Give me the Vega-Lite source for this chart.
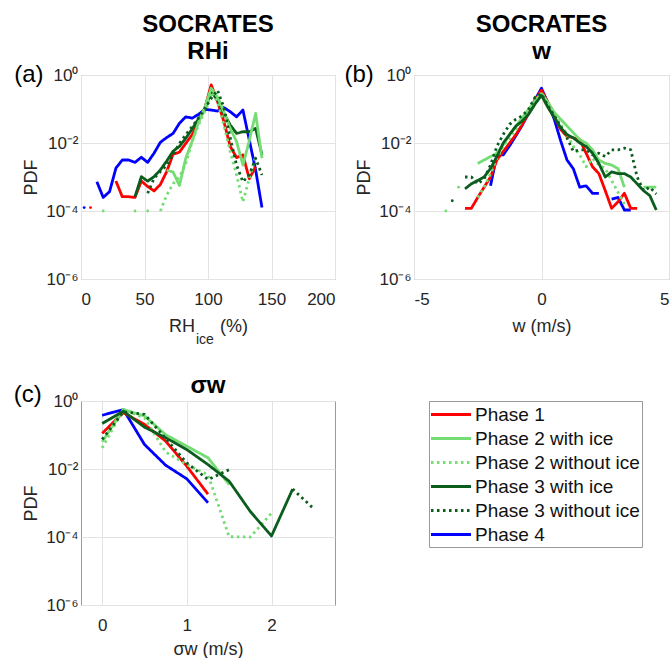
{
  "$schema": "https://vega.github.io/schema/vega-lite/v6.json",
  "background": "white",
  "padding": {"left": 13, "top": 12, "right": 0, "bottom": 0},
  "config": {
    "font": "Liberation Sans",
    "view": {"stroke": "#9a9a9a", "strokeWidth": 1},
    "title": {"font": "Liberation Sans", "fontSize": 24, "fontWeight": "bold", "color": "#000000", "anchor": "middle", "frame": "group", "lineHeight": 27, "offset": -1},
    "axis": {"labelFont": "Liberation Sans", "labelFontSize": 17, "labelColor": "#262626", "titleFont": "Liberation Sans", "titleFontSize": 18, "titleFontWeight": "normal", "titleColor": "#262626", "gridColor": "#e3e3e3", "domain": false, "ticks": false, "tickSize": 0},
    "axisX": {"labelPadding": 12, "titlePadding": 10},
    "axisY": {"labelPadding": 3, "titlePadding": 5},
    "legend": {"title": null, "orient": "none", "legendX": 348, "legendY": 326, "symbolType": "M0,0H4", "symbolSize": 400, "symbolOffset": -11.5, "symbolStrokeWidth": 3, "labelFont": "Liberation Sans", "labelFontSize": 19, "labelColor": "#111111", "labelLimit": 400, "labelOffset": 32.5, "rowPadding": 2, "padding": 2, "strokeColor": "#999999", "fillColor": "#ffffff", "cornerRadius": 0}
  },
  "datasets": {
    "rhi": [
      {"phase": "Phase 4", "rhi": 2.5, "pdf": 1.26e-4, "seg": 1},
      {"phase": "Phase 4", "rhi": 12.5, "pdf": 7.24e-4, "seg": 2},
      {"phase": "Phase 4", "rhi": 17.5, "pdf": 2.51e-4, "seg": 2},
      {"phase": "Phase 4", "rhi": 22.5, "pdf": 3.72e-4, "seg": 2},
      {"phase": "Phase 4", "rhi": 27.5, "pdf": 1.82e-3, "seg": 2},
      {"phase": "Phase 4", "rhi": 32.5, "pdf": 3.16e-3, "seg": 2},
      {"phase": "Phase 4", "rhi": 37.5, "pdf": 3.16e-3, "seg": 2},
      {"phase": "Phase 4", "rhi": 42.5, "pdf": 2.69e-3, "seg": 2},
      {"phase": "Phase 4", "rhi": 47.5, "pdf": 3.80e-3, "seg": 2},
      {"phase": "Phase 4", "rhi": 52.5, "pdf": 2.69e-3, "seg": 2},
      {"phase": "Phase 4", "rhi": 57.5, "pdf": 5.01e-3, "seg": 2},
      {"phase": "Phase 4", "rhi": 62.5, "pdf": 1.05e-2, "seg": 2},
      {"phase": "Phase 4", "rhi": 67.5, "pdf": 1.45e-2, "seg": 2},
      {"phase": "Phase 4", "rhi": 72.5, "pdf": 1.91e-2, "seg": 2},
      {"phase": "Phase 4", "rhi": 77.5, "pdf": 3.80e-2, "seg": 2},
      {"phase": "Phase 4", "rhi": 82.5, "pdf": 5.89e-2, "seg": 2},
      {"phase": "Phase 4", "rhi": 87.5, "pdf": 5.37e-2, "seg": 2},
      {"phase": "Phase 4", "rhi": 92.5, "pdf": 6.92e-2, "seg": 2},
      {"phase": "Phase 4", "rhi": 97.5, "pdf": 9.77e-2, "seg": 2},
      {"phase": "Phase 4", "rhi": 102.5, "pdf": 9.33e-2, "seg": 2},
      {"phase": "Phase 4", "rhi": 107.5, "pdf": 8.71e-2, "seg": 2},
      {"phase": "Phase 4", "rhi": 112.5, "pdf": 0.110, "seg": 2},
      {"phase": "Phase 4", "rhi": 117.5, "pdf": 8.32e-2, "seg": 2},
      {"phase": "Phase 4", "rhi": 122.5, "pdf": 5.89e-2, "seg": 2},
      {"phase": "Phase 4", "rhi": 127.5, "pdf": 9.33e-2, "seg": 2},
      {"phase": "Phase 4", "rhi": 132.5, "pdf": 1.23e-2, "seg": 2},
      {"phase": "Phase 4", "rhi": 137.5, "pdf": 1.62e-3, "seg": 2},
      {"phase": "Phase 4", "rhi": 142.5, "pdf": 1.26e-4, "seg": 2},
      {"phase": "Phase 1", "rhi": 7.5, "pdf": 1.26e-4, "seg": 1},
      {"phase": "Phase 1", "rhi": 27.5, "pdf": 7.59e-4, "seg": 2},
      {"phase": "Phase 1", "rhi": 32.5, "pdf": 2.63e-4, "seg": 2},
      {"phase": "Phase 1", "rhi": 37.5, "pdf": 2.63e-4, "seg": 2},
      {"phase": "Phase 1", "rhi": 42.5, "pdf": 2.51e-4, "seg": 2},
      {"phase": "Phase 1", "rhi": 47.5, "pdf": 7.59e-4, "seg": 2},
      {"phase": "Phase 1", "rhi": 52.5, "pdf": 5.25e-4, "seg": 2},
      {"phase": "Phase 1", "rhi": 57.5, "pdf": 3.89e-4, "seg": 2},
      {"phase": "Phase 1", "rhi": 62.5, "pdf": 6.03e-4, "seg": 2},
      {"phase": "Phase 1", "rhi": 67.5, "pdf": 1.45e-3, "seg": 2},
      {"phase": "Phase 1", "rhi": 72.5, "pdf": 4.68e-3, "seg": 2},
      {"phase": "Phase 1", "rhi": 77.5, "pdf": 5.37e-3, "seg": 2},
      {"phase": "Phase 1", "rhi": 82.5, "pdf": 9.77e-3, "seg": 2},
      {"phase": "Phase 1", "rhi": 87.5, "pdf": 1.74e-2, "seg": 2},
      {"phase": "Phase 1", "rhi": 92.5, "pdf": 4.27e-2, "seg": 2},
      {"phase": "Phase 1", "rhi": 97.5, "pdf": 0.105, "seg": 2},
      {"phase": "Phase 1", "rhi": 102.5, "pdf": 0.513, "seg": 2},
      {"phase": "Phase 1", "rhi": 107.5, "pdf": 0.166, "seg": 2},
      {"phase": "Phase 1", "rhi": 112.5, "pdf": 4.27e-2, "seg": 2},
      {"phase": "Phase 1", "rhi": 117.5, "pdf": 7.94e-3, "seg": 2},
      {"phase": "Phase 1", "rhi": 122.5, "pdf": 3.72e-3, "seg": 2},
      {"phase": "Phase 1", "rhi": 127.5, "pdf": 4.47e-3, "seg": 2},
      {"phase": "Phase 1", "rhi": 132.5, "pdf": 8.91e-4, "seg": 2},
      {"phase": "Phase 1", "rhi": 137.5, "pdf": 2.00e-3, "seg": 2},
      {"phase": "Phase 3 with ice", "rhi": 42.5, "pdf": 2.63e-4, "seg": 1},
      {"phase": "Phase 3 with ice", "rhi": 47.5, "pdf": 1.02e-3, "seg": 1},
      {"phase": "Phase 3 with ice", "rhi": 52.5, "pdf": 7.59e-4, "seg": 1},
      {"phase": "Phase 3 with ice", "rhi": 57.5, "pdf": 1.02e-3, "seg": 1},
      {"phase": "Phase 3 with ice", "rhi": 62.5, "pdf": 1.62e-3, "seg": 1},
      {"phase": "Phase 3 with ice", "rhi": 67.5, "pdf": 2.95e-3, "seg": 1},
      {"phase": "Phase 3 with ice", "rhi": 72.5, "pdf": 5.75e-3, "seg": 1},
      {"phase": "Phase 3 with ice", "rhi": 77.5, "pdf": 7.94e-3, "seg": 1},
      {"phase": "Phase 3 with ice", "rhi": 82.5, "pdf": 1.38e-2, "seg": 1},
      {"phase": "Phase 3 with ice", "rhi": 87.5, "pdf": 2.57e-2, "seg": 1},
      {"phase": "Phase 3 with ice", "rhi": 92.5, "pdf": 5.13e-2, "seg": 1},
      {"phase": "Phase 3 with ice", "rhi": 97.5, "pdf": 9.33e-2, "seg": 1},
      {"phase": "Phase 3 with ice", "rhi": 102.5, "pdf": 0.324, "seg": 1},
      {"phase": "Phase 3 with ice", "rhi": 107.5, "pdf": 0.182, "seg": 1},
      {"phase": "Phase 3 with ice", "rhi": 112.5, "pdf": 7.41e-2, "seg": 1},
      {"phase": "Phase 3 with ice", "rhi": 117.5, "pdf": 3.39e-2, "seg": 1},
      {"phase": "Phase 3 with ice", "rhi": 122.5, "pdf": 1.91e-2, "seg": 1},
      {"phase": "Phase 3 with ice", "rhi": 127.5, "pdf": 2.14e-2, "seg": 1},
      {"phase": "Phase 3 with ice", "rhi": 132.5, "pdf": 2.14e-2, "seg": 1},
      {"phase": "Phase 3 with ice", "rhi": 137.5, "pdf": 2.69e-2, "seg": 1},
      {"phase": "Phase 3 with ice", "rhi": 142.5, "pdf": 4.47e-3, "seg": 1},
      {"phase": "Phase 2 with ice", "rhi": 67.5, "pdf": 1.58e-3, "seg": 1},
      {"phase": "Phase 2 with ice", "rhi": 72.5, "pdf": 1.41e-3, "seg": 1},
      {"phase": "Phase 2 with ice", "rhi": 77.5, "pdf": 5.62e-4, "seg": 1},
      {"phase": "Phase 2 with ice", "rhi": 82.5, "pdf": 3.55e-3, "seg": 1},
      {"phase": "Phase 2 with ice", "rhi": 87.5, "pdf": 1.12e-2, "seg": 1},
      {"phase": "Phase 2 with ice", "rhi": 92.5, "pdf": 3.98e-2, "seg": 1},
      {"phase": "Phase 2 with ice", "rhi": 97.5, "pdf": 0.112, "seg": 1},
      {"phase": "Phase 2 with ice", "rhi": 102.5, "pdf": 0.407, "seg": 1},
      {"phase": "Phase 2 with ice", "rhi": 107.5, "pdf": 0.224, "seg": 1},
      {"phase": "Phase 2 with ice", "rhi": 112.5, "pdf": 8.32e-2, "seg": 1},
      {"phase": "Phase 2 with ice", "rhi": 117.5, "pdf": 2.69e-2, "seg": 1},
      {"phase": "Phase 2 with ice", "rhi": 122.5, "pdf": 1.10e-2, "seg": 1},
      {"phase": "Phase 2 with ice", "rhi": 127.5, "pdf": 2.24e-3, "seg": 1},
      {"phase": "Phase 2 with ice", "rhi": 132.5, "pdf": 1.17e-2, "seg": 1},
      {"phase": "Phase 2 with ice", "rhi": 137.5, "pdf": 7.41e-2, "seg": 1},
      {"phase": "Phase 2 with ice", "rhi": 142.5, "pdf": 3.55e-3, "seg": 1},
      {"phase": "Phase 2 without ice", "rhi": 17.5, "pdf": 1.0e-4, "seg": 1},
      {"phase": "Phase 2 without ice", "rhi": 42.5, "pdf": 1.0e-4, "seg": 2},
      {"phase": "Phase 2 without ice", "rhi": 52.5, "pdf": 1.0e-4, "seg": 3},
      {"phase": "Phase 2 without ice", "rhi": 62.5, "pdf": 1.0e-4, "seg": 4},
      {"phase": "Phase 2 without ice", "rhi": 67.5, "pdf": 2.95e-4, "seg": 4},
      {"phase": "Phase 2 without ice", "rhi": 72.5, "pdf": 6.31e-4, "seg": 4},
      {"phase": "Phase 2 without ice", "rhi": 77.5, "pdf": 1.00e-3, "seg": 4},
      {"phase": "Phase 2 without ice", "rhi": 82.5, "pdf": 2.51e-3, "seg": 4},
      {"phase": "Phase 2 without ice", "rhi": 87.5, "pdf": 1.10e-2, "seg": 4},
      {"phase": "Phase 2 without ice", "rhi": 92.5, "pdf": 3.39e-2, "seg": 4},
      {"phase": "Phase 2 without ice", "rhi": 97.5, "pdf": 8.71e-2, "seg": 4},
      {"phase": "Phase 2 without ice", "rhi": 102.5, "pdf": 0.316, "seg": 4},
      {"phase": "Phase 2 without ice", "rhi": 107.5, "pdf": 0.166, "seg": 4},
      {"phase": "Phase 2 without ice", "rhi": 112.5, "pdf": 3.39e-2, "seg": 4},
      {"phase": "Phase 2 without ice", "rhi": 117.5, "pdf": 5.62e-3, "seg": 4},
      {"phase": "Phase 2 without ice", "rhi": 122.5, "pdf": 1.15e-3, "seg": 4},
      {"phase": "Phase 2 without ice", "rhi": 127.5, "pdf": 1.86e-4, "seg": 4},
      {"phase": "Phase 2 without ice", "rhi": 132.5, "pdf": 9.12e-4, "seg": 4},
      {"phase": "Phase 2 without ice", "rhi": 137.5, "pdf": 3.98e-3, "seg": 4},
      {"phase": "Phase 3 without ice", "rhi": 52.5, "pdf": 3.31e-4, "seg": 1},
      {"phase": "Phase 3 without ice", "rhi": 57.5, "pdf": 9.12e-4, "seg": 1},
      {"phase": "Phase 3 without ice", "rhi": 62.5, "pdf": 1.45e-3, "seg": 1},
      {"phase": "Phase 3 without ice", "rhi": 67.5, "pdf": 2.19e-3, "seg": 1},
      {"phase": "Phase 3 without ice", "rhi": 72.5, "pdf": 4.47e-3, "seg": 1},
      {"phase": "Phase 3 without ice", "rhi": 77.5, "pdf": 9.77e-3, "seg": 1},
      {"phase": "Phase 3 without ice", "rhi": 82.5, "pdf": 1.74e-2, "seg": 1},
      {"phase": "Phase 3 without ice", "rhi": 87.5, "pdf": 3.02e-2, "seg": 1},
      {"phase": "Phase 3 without ice", "rhi": 92.5, "pdf": 5.37e-2, "seg": 1},
      {"phase": "Phase 3 without ice", "rhi": 97.5, "pdf": 0.105, "seg": 1},
      {"phase": "Phase 3 without ice", "rhi": 102.5, "pdf": 0.204, "seg": 1},
      {"phase": "Phase 3 without ice", "rhi": 107.5, "pdf": 0.355, "seg": 1},
      {"phase": "Phase 3 without ice", "rhi": 112.5, "pdf": 0.112, "seg": 1},
      {"phase": "Phase 3 without ice", "rhi": 117.5, "pdf": 1.41e-2, "seg": 1},
      {"phase": "Phase 3 without ice", "rhi": 122.5, "pdf": 2.24e-3, "seg": 1},
      {"phase": "Phase 3 without ice", "rhi": 127.5, "pdf": 7.24e-4, "seg": 1},
      {"phase": "Phase 3 without ice", "rhi": 132.5, "pdf": 1.15e-3, "seg": 1},
      {"phase": "Phase 3 without ice", "rhi": 137.5, "pdf": 3.55e-3, "seg": 1},
      {"phase": "Phase 3 without ice", "rhi": 142.5, "pdf": 1.15e-3, "seg": 1}
    ],
    "w": [
      {"phase": "Phase 4", "w": -2.0, "pdf": 5.50e-4, "seg": 1},
      {"phase": "Phase 4", "w": -1.75, "pdf": 4.47e-3, "seg": 1},
      {"phase": "Phase 4", "w": -1.5, "pdf": 4.47e-3, "seg": 1},
      {"phase": "Phase 4", "w": -1.25, "pdf": 8.32e-3, "seg": 1},
      {"phase": "Phase 4", "w": -1.0, "pdf": 1.66e-2, "seg": 1},
      {"phase": "Phase 4", "w": -0.75, "pdf": 3.39e-2, "seg": 1},
      {"phase": "Phase 4", "w": -0.5, "pdf": 7.94e-2, "seg": 1},
      {"phase": "Phase 4", "w": -0.25, "pdf": 0.191, "seg": 1},
      {"phase": "Phase 4", "w": 0.0, "pdf": 0.407, "seg": 1},
      {"phase": "Phase 4", "w": 0.25, "pdf": 0.151, "seg": 1},
      {"phase": "Phase 4", "w": 0.5, "pdf": 5.01e-2, "seg": 1},
      {"phase": "Phase 4", "w": 0.75, "pdf": 1.17e-2, "seg": 1},
      {"phase": "Phase 4", "w": 1.0, "pdf": 3.16e-3, "seg": 1},
      {"phase": "Phase 4", "w": 1.25, "pdf": 1.74e-3, "seg": 1},
      {"phase": "Phase 4", "w": 1.5, "pdf": 5.01e-4, "seg": 1},
      {"phase": "Phase 4", "w": 1.75, "pdf": 5.50e-4, "seg": 1},
      {"phase": "Phase 4", "w": 2.0, "pdf": 3.31e-4, "seg": 1},
      {"phase": "Phase 4", "w": 2.25, "pdf": 3.31e-4, "seg": 1},
      {"phase": "Phase 4", "w": 2.75, "pdf": 2.24e-4, "seg": 2},
      {"phase": "Phase 4", "w": 3.0, "pdf": 2.51e-4, "seg": 2},
      {"phase": "Phase 4", "w": 3.25, "pdf": 1.07e-4, "seg": 2},
      {"phase": "Phase 4", "w": 3.5, "pdf": 1.07e-4, "seg": 2},
      {"phase": "Phase 1", "w": -3.0, "pdf": 1.20e-4, "seg": 1},
      {"phase": "Phase 1", "w": -2.75, "pdf": 1.20e-4, "seg": 1},
      {"phase": "Phase 1", "w": -2.5, "pdf": 2.51e-4, "seg": 1},
      {"phase": "Phase 1", "w": -2.25, "pdf": 5.01e-4, "seg": 1},
      {"phase": "Phase 1", "w": -2.0, "pdf": 1.00e-3, "seg": 1},
      {"phase": "Phase 1", "w": -1.75, "pdf": 3.16e-3, "seg": 1},
      {"phase": "Phase 1", "w": -1.5, "pdf": 5.62e-3, "seg": 1},
      {"phase": "Phase 1", "w": -1.25, "pdf": 1.00e-2, "seg": 1},
      {"phase": "Phase 1", "w": -1.0, "pdf": 1.78e-2, "seg": 1},
      {"phase": "Phase 1", "w": -0.75, "pdf": 3.55e-2, "seg": 1},
      {"phase": "Phase 1", "w": -0.5, "pdf": 7.59e-2, "seg": 1},
      {"phase": "Phase 1", "w": -0.25, "pdf": 0.178, "seg": 1},
      {"phase": "Phase 1", "w": 0.0, "pdf": 0.355, "seg": 1},
      {"phase": "Phase 1", "w": 0.25, "pdf": 0.158, "seg": 1},
      {"phase": "Phase 1", "w": 0.5, "pdf": 6.31e-2, "seg": 1},
      {"phase": "Phase 1", "w": 0.75, "pdf": 2.51e-2, "seg": 1},
      {"phase": "Phase 1", "w": 1.0, "pdf": 1.58e-2, "seg": 1},
      {"phase": "Phase 1", "w": 1.25, "pdf": 1.41e-2, "seg": 1},
      {"phase": "Phase 1", "w": 1.5, "pdf": 1.26e-2, "seg": 1},
      {"phase": "Phase 1", "w": 1.75, "pdf": 5.01e-3, "seg": 1},
      {"phase": "Phase 1", "w": 2.0, "pdf": 2.00e-3, "seg": 1},
      {"phase": "Phase 1", "w": 2.25, "pdf": 1.26e-3, "seg": 1},
      {"phase": "Phase 1", "w": 2.5, "pdf": 3.98e-4, "seg": 1},
      {"phase": "Phase 1", "w": 2.75, "pdf": 1.20e-4, "seg": 1},
      {"phase": "Phase 1", "w": 3.0, "pdf": 1.86e-4, "seg": 1},
      {"phase": "Phase 1", "w": 3.25, "pdf": 3.31e-4, "seg": 1},
      {"phase": "Phase 1", "w": 3.5, "pdf": 1.20e-4, "seg": 1},
      {"phase": "Phase 1", "w": 3.75, "pdf": 1.20e-4, "seg": 1},
      {"phase": "Phase 2 with ice", "w": -2.5, "pdf": 2.51e-3, "seg": 1},
      {"phase": "Phase 2 with ice", "w": -2.25, "pdf": 3.16e-3, "seg": 1},
      {"phase": "Phase 2 with ice", "w": -2.0, "pdf": 3.98e-3, "seg": 1},
      {"phase": "Phase 2 with ice", "w": -1.75, "pdf": 5.01e-3, "seg": 1},
      {"phase": "Phase 2 with ice", "w": -1.5, "pdf": 8.91e-3, "seg": 1},
      {"phase": "Phase 2 with ice", "w": -1.25, "pdf": 1.78e-2, "seg": 1},
      {"phase": "Phase 2 with ice", "w": -1.0, "pdf": 3.16e-2, "seg": 1},
      {"phase": "Phase 2 with ice", "w": -0.75, "pdf": 5.62e-2, "seg": 1},
      {"phase": "Phase 2 with ice", "w": -0.5, "pdf": 0.100, "seg": 1},
      {"phase": "Phase 2 with ice", "w": -0.25, "pdf": 0.178, "seg": 1},
      {"phase": "Phase 2 with ice", "w": 0.0, "pdf": 0.282, "seg": 1},
      {"phase": "Phase 2 with ice", "w": 0.25, "pdf": 0.158, "seg": 1},
      {"phase": "Phase 2 with ice", "w": 0.5, "pdf": 7.94e-2, "seg": 1},
      {"phase": "Phase 2 with ice", "w": 0.75, "pdf": 5.01e-2, "seg": 1},
      {"phase": "Phase 2 with ice", "w": 1.0, "pdf": 3.16e-2, "seg": 1},
      {"phase": "Phase 2 with ice", "w": 1.25, "pdf": 2.00e-2, "seg": 1},
      {"phase": "Phase 2 with ice", "w": 1.5, "pdf": 1.26e-2, "seg": 1},
      {"phase": "Phase 2 with ice", "w": 1.75, "pdf": 1.00e-2, "seg": 1},
      {"phase": "Phase 2 with ice", "w": 2.0, "pdf": 6.31e-3, "seg": 1},
      {"phase": "Phase 2 with ice", "w": 2.25, "pdf": 3.16e-3, "seg": 1},
      {"phase": "Phase 2 with ice", "w": 2.5, "pdf": 2.51e-3, "seg": 1},
      {"phase": "Phase 2 with ice", "w": 2.75, "pdf": 2.24e-3, "seg": 1},
      {"phase": "Phase 2 with ice", "w": 3.0, "pdf": 1.78e-3, "seg": 1},
      {"phase": "Phase 2 with ice", "w": 3.25, "pdf": 5.01e-4, "seg": 1},
      {"phase": "Phase 2 with ice", "w": 4.0, "pdf": 5.01e-4, "seg": 2},
      {"phase": "Phase 2 with ice", "w": 4.25, "pdf": 5.01e-4, "seg": 2},
      {"phase": "Phase 2 with ice", "w": 4.5, "pdf": 5.01e-4, "seg": 2},
      {"phase": "Phase 2 without ice", "w": -3.75, "pdf": 1.00e-4, "seg": 1},
      {"phase": "Phase 2 without ice", "w": -3.25, "pdf": 5.01e-4, "seg": 2},
      {"phase": "Phase 2 without ice", "w": -2.5, "pdf": 2.51e-4, "seg": 3},
      {"phase": "Phase 2 without ice", "w": -2.25, "pdf": 5.01e-4, "seg": 3},
      {"phase": "Phase 2 without ice", "w": -2.0, "pdf": 1.26e-3, "seg": 3},
      {"phase": "Phase 2 without ice", "w": -1.75, "pdf": 3.55e-3, "seg": 3},
      {"phase": "Phase 2 without ice", "w": -1.5, "pdf": 7.94e-3, "seg": 3},
      {"phase": "Phase 2 without ice", "w": -1.25, "pdf": 1.41e-2, "seg": 3},
      {"phase": "Phase 2 without ice", "w": -1.0, "pdf": 2.51e-2, "seg": 3},
      {"phase": "Phase 2 without ice", "w": -0.75, "pdf": 4.47e-2, "seg": 3},
      {"phase": "Phase 2 without ice", "w": -0.5, "pdf": 7.94e-2, "seg": 3},
      {"phase": "Phase 2 without ice", "w": -0.25, "pdf": 0.158, "seg": 3},
      {"phase": "Phase 2 without ice", "w": 0.0, "pdf": 0.316, "seg": 3},
      {"phase": "Phase 2 without ice", "w": 0.25, "pdf": 0.141, "seg": 3},
      {"phase": "Phase 2 without ice", "w": 0.5, "pdf": 7.08e-2, "seg": 3},
      {"phase": "Phase 2 without ice", "w": 0.75, "pdf": 3.55e-2, "seg": 3},
      {"phase": "Phase 2 without ice", "w": 1.0, "pdf": 1.78e-2, "seg": 3},
      {"phase": "Phase 2 without ice", "w": 1.25, "pdf": 7.94e-3, "seg": 3},
      {"phase": "Phase 2 without ice", "w": 1.5, "pdf": 4.47e-3, "seg": 3},
      {"phase": "Phase 2 without ice", "w": 1.75, "pdf": 2.00e-3, "seg": 3},
      {"phase": "Phase 2 without ice", "w": 2.0, "pdf": 3.55e-3, "seg": 3},
      {"phase": "Phase 2 without ice", "w": 2.25, "pdf": 2.24e-3, "seg": 3},
      {"phase": "Phase 2 without ice", "w": 2.5, "pdf": 1.78e-3, "seg": 3},
      {"phase": "Phase 2 without ice", "w": 2.75, "pdf": 7.94e-4, "seg": 3},
      {"phase": "Phase 2 without ice", "w": 3.0, "pdf": 3.55e-4, "seg": 3},
      {"phase": "Phase 2 without ice", "w": 3.25, "pdf": 1.58e-4, "seg": 3},
      {"phase": "Phase 3 with ice", "w": -3.0, "pdf": 4.47e-4, "seg": 1},
      {"phase": "Phase 3 with ice", "w": -2.75, "pdf": 6.31e-4, "seg": 1},
      {"phase": "Phase 3 with ice", "w": -2.5, "pdf": 7.94e-4, "seg": 1},
      {"phase": "Phase 3 with ice", "w": -2.25, "pdf": 1.00e-3, "seg": 1},
      {"phase": "Phase 3 with ice", "w": -2.0, "pdf": 1.78e-3, "seg": 1},
      {"phase": "Phase 3 with ice", "w": -1.75, "pdf": 3.98e-3, "seg": 1},
      {"phase": "Phase 3 with ice", "w": -1.5, "pdf": 1.00e-2, "seg": 1},
      {"phase": "Phase 3 with ice", "w": -1.25, "pdf": 1.78e-2, "seg": 1},
      {"phase": "Phase 3 with ice", "w": -1.0, "pdf": 3.16e-2, "seg": 1},
      {"phase": "Phase 3 with ice", "w": -0.75, "pdf": 4.47e-2, "seg": 1},
      {"phase": "Phase 3 with ice", "w": -0.5, "pdf": 7.08e-2, "seg": 1},
      {"phase": "Phase 3 with ice", "w": -0.25, "pdf": 0.141, "seg": 1},
      {"phase": "Phase 3 with ice", "w": 0.0, "pdf": 0.251, "seg": 1},
      {"phase": "Phase 3 with ice", "w": 0.25, "pdf": 0.112, "seg": 1},
      {"phase": "Phase 3 with ice", "w": 0.5, "pdf": 5.62e-2, "seg": 1},
      {"phase": "Phase 3 with ice", "w": 0.75, "pdf": 2.82e-2, "seg": 1},
      {"phase": "Phase 3 with ice", "w": 1.0, "pdf": 1.78e-2, "seg": 1},
      {"phase": "Phase 3 with ice", "w": 1.25, "pdf": 1.41e-2, "seg": 1},
      {"phase": "Phase 3 with ice", "w": 1.5, "pdf": 1.00e-2, "seg": 1},
      {"phase": "Phase 3 with ice", "w": 1.75, "pdf": 7.94e-3, "seg": 1},
      {"phase": "Phase 3 with ice", "w": 2.0, "pdf": 5.01e-3, "seg": 1},
      {"phase": "Phase 3 with ice", "w": 2.25, "pdf": 2.51e-3, "seg": 1},
      {"phase": "Phase 3 with ice", "w": 2.5, "pdf": 1.00e-3, "seg": 1},
      {"phase": "Phase 3 with ice", "w": 2.75, "pdf": 1.41e-3, "seg": 1},
      {"phase": "Phase 3 with ice", "w": 3.0, "pdf": 1.26e-3, "seg": 1},
      {"phase": "Phase 3 with ice", "w": 3.25, "pdf": 1.26e-3, "seg": 1},
      {"phase": "Phase 3 with ice", "w": 3.5, "pdf": 1.00e-3, "seg": 1},
      {"phase": "Phase 3 with ice", "w": 3.75, "pdf": 6.31e-4, "seg": 1},
      {"phase": "Phase 3 with ice", "w": 4.0, "pdf": 3.98e-4, "seg": 1},
      {"phase": "Phase 3 with ice", "w": 4.25, "pdf": 2.82e-4, "seg": 1},
      {"phase": "Phase 3 with ice", "w": 4.5, "pdf": 1.07e-4, "seg": 1},
      {"phase": "Phase 3 without ice", "w": -3.5, "pdf": 2.00e-4, "seg": 1},
      {"phase": "Phase 3 without ice", "w": -3.0, "pdf": 1.00e-3, "seg": 2},
      {"phase": "Phase 3 without ice", "w": -2.75, "pdf": 1.00e-3, "seg": 2},
      {"phase": "Phase 3 without ice", "w": -2.5, "pdf": 6.31e-4, "seg": 2},
      {"phase": "Phase 3 without ice", "w": -2.25, "pdf": 8.91e-4, "seg": 2},
      {"phase": "Phase 3 without ice", "w": -2.0, "pdf": 2.24e-3, "seg": 2},
      {"phase": "Phase 3 without ice", "w": -1.75, "pdf": 7.94e-3, "seg": 2},
      {"phase": "Phase 3 without ice", "w": -1.5, "pdf": 1.78e-2, "seg": 2},
      {"phase": "Phase 3 without ice", "w": -1.25, "pdf": 3.55e-2, "seg": 2},
      {"phase": "Phase 3 without ice", "w": -1.0, "pdf": 5.01e-2, "seg": 2},
      {"phase": "Phase 3 without ice", "w": -0.75, "pdf": 6.31e-2, "seg": 2},
      {"phase": "Phase 3 without ice", "w": -0.5, "pdf": 0.100, "seg": 2},
      {"phase": "Phase 3 without ice", "w": -0.25, "pdf": 0.224, "seg": 2},
      {"phase": "Phase 3 without ice", "w": 0.0, "pdf": 0.282, "seg": 2},
      {"phase": "Phase 3 without ice", "w": 0.25, "pdf": 0.126, "seg": 2},
      {"phase": "Phase 3 without ice", "w": 0.5, "pdf": 6.31e-2, "seg": 2},
      {"phase": "Phase 3 without ice", "w": 0.75, "pdf": 3.16e-2, "seg": 2},
      {"phase": "Phase 3 without ice", "w": 1.0, "pdf": 1.41e-2, "seg": 2},
      {"phase": "Phase 3 without ice", "w": 1.25, "pdf": 5.62e-3, "seg": 2},
      {"phase": "Phase 3 without ice", "w": 1.5, "pdf": 6.31e-3, "seg": 2},
      {"phase": "Phase 3 without ice", "w": 1.75, "pdf": 6.31e-3, "seg": 2},
      {"phase": "Phase 3 without ice", "w": 2.0, "pdf": 4.47e-3, "seg": 2},
      {"phase": "Phase 3 without ice", "w": 2.25, "pdf": 5.01e-3, "seg": 2},
      {"phase": "Phase 3 without ice", "w": 2.5, "pdf": 3.98e-3, "seg": 2},
      {"phase": "Phase 3 without ice", "w": 2.75, "pdf": 6.31e-3, "seg": 2},
      {"phase": "Phase 3 without ice", "w": 3.0, "pdf": 6.31e-3, "seg": 2},
      {"phase": "Phase 3 without ice", "w": 3.25, "pdf": 7.08e-3, "seg": 2},
      {"phase": "Phase 3 without ice", "w": 3.5, "pdf": 6.31e-3, "seg": 2},
      {"phase": "Phase 3 without ice", "w": 3.75, "pdf": 1.00e-3, "seg": 2},
      {"phase": "Phase 3 without ice", "w": 4.0, "pdf": 3.98e-4, "seg": 2},
      {"phase": "Phase 3 without ice", "w": 4.25, "pdf": 5.01e-4, "seg": 2},
      {"phase": "Phase 3 without ice", "w": 4.5, "pdf": 3.16e-4, "seg": 2}
    ],
    "sigmaw": [
      {"phase": "Phase 4", "sigma_w": 0.0, "pdf": 0.380, "seg": 1},
      {"phase": "Phase 4", "sigma_w": 0.25, "pdf": 0.562, "seg": 1},
      {"phase": "Phase 4", "sigma_w": 0.5, "pdf": 5.25e-2, "seg": 1},
      {"phase": "Phase 4", "sigma_w": 0.75, "pdf": 1.29e-2, "seg": 1},
      {"phase": "Phase 4", "sigma_w": 1.0, "pdf": 5.13e-3, "seg": 1},
      {"phase": "Phase 4", "sigma_w": 1.25, "pdf": 1.02e-3, "seg": 1},
      {"phase": "Phase 1", "sigma_w": 0.0, "pdf": 0.112, "seg": 1},
      {"phase": "Phase 1", "sigma_w": 0.25, "pdf": 0.457, "seg": 1},
      {"phase": "Phase 1", "sigma_w": 0.5, "pdf": 0.204, "seg": 1},
      {"phase": "Phase 1", "sigma_w": 0.75, "pdf": 6.61e-2, "seg": 1},
      {"phase": "Phase 1", "sigma_w": 1.0, "pdf": 1.20e-2, "seg": 1},
      {"phase": "Phase 1", "sigma_w": 1.25, "pdf": 1.82e-3, "seg": 1},
      {"phase": "Phase 2 with ice", "sigma_w": 0.0, "pdf": 6.31e-2, "seg": 1},
      {"phase": "Phase 2 with ice", "sigma_w": 0.25, "pdf": 0.562, "seg": 1},
      {"phase": "Phase 2 with ice", "sigma_w": 0.5, "pdf": 0.363, "seg": 1},
      {"phase": "Phase 2 with ice", "sigma_w": 0.75, "pdf": 0.102, "seg": 1},
      {"phase": "Phase 2 with ice", "sigma_w": 1.0, "pdf": 4.68e-2, "seg": 1},
      {"phase": "Phase 2 with ice", "sigma_w": 1.25, "pdf": 2.14e-2, "seg": 1},
      {"phase": "Phase 2 with ice", "sigma_w": 1.5, "pdf": 3.47e-3, "seg": 1},
      {"phase": "Phase 2 without ice", "sigma_w": 0.0, "pdf": 4.17e-2, "seg": 1},
      {"phase": "Phase 2 without ice", "sigma_w": 0.25, "pdf": 0.562, "seg": 1},
      {"phase": "Phase 2 without ice", "sigma_w": 0.5, "pdf": 0.316, "seg": 1},
      {"phase": "Phase 2 without ice", "sigma_w": 0.75, "pdf": 3.16e-2, "seg": 1},
      {"phase": "Phase 2 without ice", "sigma_w": 1.0, "pdf": 1.35e-2, "seg": 1},
      {"phase": "Phase 2 without ice", "sigma_w": 1.25, "pdf": 6.76e-3, "seg": 1},
      {"phase": "Phase 2 without ice", "sigma_w": 1.5, "pdf": 1.02e-4, "seg": 1},
      {"phase": "Phase 2 without ice", "sigma_w": 1.75, "pdf": 1.00e-4, "seg": 1},
      {"phase": "Phase 2 without ice", "sigma_w": 2.0, "pdf": 5.01e-4, "seg": 1},
      {"phase": "Phase 3 with ice", "sigma_w": 0.0, "pdf": 0.219, "seg": 1},
      {"phase": "Phase 3 with ice", "sigma_w": 0.25, "pdf": 0.501, "seg": 1},
      {"phase": "Phase 3 with ice", "sigma_w": 0.5, "pdf": 0.170, "seg": 1},
      {"phase": "Phase 3 with ice", "sigma_w": 0.75, "pdf": 8.32e-2, "seg": 1},
      {"phase": "Phase 3 with ice", "sigma_w": 1.0, "pdf": 3.72e-2, "seg": 1},
      {"phase": "Phase 3 with ice", "sigma_w": 1.25, "pdf": 1.35e-2, "seg": 1},
      {"phase": "Phase 3 with ice", "sigma_w": 1.5, "pdf": 4.37e-3, "seg": 1},
      {"phase": "Phase 3 with ice", "sigma_w": 1.75, "pdf": 5.62e-4, "seg": 1},
      {"phase": "Phase 3 with ice", "sigma_w": 2.0, "pdf": 1.07e-4, "seg": 1},
      {"phase": "Phase 3 with ice", "sigma_w": 2.25, "pdf": 2.57e-3, "seg": 1},
      {"phase": "Phase 3 without ice", "sigma_w": 0.0, "pdf": 7.41e-2, "seg": 1},
      {"phase": "Phase 3 without ice", "sigma_w": 0.25, "pdf": 0.479, "seg": 1},
      {"phase": "Phase 3 without ice", "sigma_w": 0.5, "pdf": 0.407, "seg": 1},
      {"phase": "Phase 3 without ice", "sigma_w": 0.75, "pdf": 7.94e-2, "seg": 1},
      {"phase": "Phase 3 without ice", "sigma_w": 1.0, "pdf": 1.51e-2, "seg": 1},
      {"phase": "Phase 3 without ice", "sigma_w": 1.25, "pdf": 4.90e-3, "seg": 1},
      {"phase": "Phase 3 without ice", "sigma_w": 1.5, "pdf": 9.55e-3, "seg": 1},
      {"phase": "Phase 3 without ice", "sigma_w": 2.25, "pdf": 2.57e-3, "seg": 2},
      {"phase": "Phase 3 without ice", "sigma_w": 2.5, "pdf": 6.76e-4, "seg": 2}
    ]
  },
  "resolve": {
    "scale": {"color": "shared", "strokeDash": "shared"},
    "legend": {"color": "shared", "strokeDash": "shared"}
  },
  "concat": [
    {
      "width": 254, "height": 204,
      "title": {"text": ["SOCRATES", "RHi"]},
      "layer": [
        {
          "data": {"name": "rhi"},
          "mark": {"type": "line", "strokeWidth": 2.8, "strokeJoin": "round"},
          "encoding": {
            "x": {"field": "rhi", "type": "quantitative", "scale": {"domain": [0, 200], "nice": false, "zero": false}, "axis": {"values": [0, 50, 100, 150, 200], "format": "d", "title": "RH\u00a0\u00a0\u00a0\u00a0\u00a0(%)"}},
            "y": {"field": "pdf", "type": "quantitative", "scale": {"type": "log", "domain": [1e-6, 1], "nice": false}, "axis": {"values": [1e-6, 1e-4, 1e-2, 1], "title": "PDF", "labelExpr": "datum.value >= 0.5 ? '10⁰' : datum.value >= 0.005 ? '10⁻²' : datum.value >= 0.00005 ? '10⁻⁴' : '10⁻⁶'"}},
            "color": {"field": "phase", "type": "nominal", "scale": {"domain": ["Phase 1", "Phase 2 with ice", "Phase 2 without ice", "Phase 3 with ice", "Phase 3 without ice", "Phase 4"], "range": ["#ff0000", "#74dd74", "#74dd74", "#0b5d1e", "#0b5d1e", "#0000ff"]}},
            "strokeDash": {"field": "phase", "type": "nominal", "scale": {"domain": ["Phase 1", "Phase 2 with ice", "Phase 2 without ice", "Phase 3 with ice", "Phase 3 without ice", "Phase 4"], "range": [[1, 0], [1, 0], [2.5, 3.5], [1, 0], [2.5, 3.5], [1, 0]]}},
            "detail": {"field": "seg"}
          }
        },
        {
          "data": {"name": "rhi"},
          "transform": [
            {"joinaggregate": [{"op": "count", "as": "n"}], "groupby": ["phase", "seg"]},
            {"filter": "datum.n == 1"}
          ],
          "mark": {"type": "circle", "size": 8, "opacity": 1},
          "encoding": {
            "x": {"field": "rhi", "type": "quantitative"},
            "y": {"field": "pdf", "type": "quantitative"},
            "color": {"field": "phase", "type": "nominal"}
          }
        },
        {
          "data": {"values": [{"label": "(a)"}]},
          "mark": {"type": "text", "fontSize": 24, "font": "Liberation Sans", "align": "center", "baseline": "middle", "color": "#000000"},
          "encoding": {"x": {"datum": -41}, "y": {"datum": 1}, "text": {"field": "label"}}
        },
        {
          "data": {"values": [{"label": "ice"}]},
          "mark": {"type": "text", "fontSize": 14, "font": "Liberation Sans", "align": "center", "baseline": "alphabetic", "color": "#262626"},
          "encoding": {"x": {"datum": 97.6}, "y": {"datum": 1.2e-8}, "text": {"field": "label"}}
        }
      ]
    },
    {
      "width": 255, "height": 204,
      "title": {"text": ["SOCRATES", "w"]},
      "layer": [
        {
          "data": {"name": "w"},
          "mark": {"type": "line", "strokeWidth": 2.8, "strokeJoin": "round"},
          "encoding": {
            "x": {"field": "w", "type": "quantitative", "scale": {"domain": [-5, 5], "nice": false, "zero": false}, "axis": {"values": [-5, 0, 5], "title": "w (m/s)", "labelExpr": "replace(datum.label, '−', '-')"}},
            "y": {"field": "pdf", "type": "quantitative", "scale": {"type": "log", "domain": [1e-6, 1], "nice": false}, "axis": {"values": [1e-6, 1e-4, 1e-2, 1], "title": "PDF", "labelExpr": "datum.value >= 0.5 ? '10⁰' : datum.value >= 0.005 ? '10⁻²' : datum.value >= 0.00005 ? '10⁻⁴' : '10⁻⁶'"}},
            "color": {"field": "phase", "type": "nominal", "scale": {"domain": ["Phase 1", "Phase 2 with ice", "Phase 2 without ice", "Phase 3 with ice", "Phase 3 without ice", "Phase 4"], "range": ["#ff0000", "#74dd74", "#74dd74", "#0b5d1e", "#0b5d1e", "#0000ff"]}},
            "strokeDash": {"field": "phase", "type": "nominal", "scale": {"domain": ["Phase 1", "Phase 2 with ice", "Phase 2 without ice", "Phase 3 with ice", "Phase 3 without ice", "Phase 4"], "range": [[1, 0], [1, 0], [2.5, 3.5], [1, 0], [2.5, 3.5], [1, 0]]}},
            "detail": {"field": "seg"}
          }
        },
        {
          "data": {"name": "w"},
          "transform": [
            {"joinaggregate": [{"op": "count", "as": "n"}], "groupby": ["phase", "seg"]},
            {"filter": "datum.n == 1"}
          ],
          "mark": {"type": "circle", "size": 8, "opacity": 1},
          "encoding": {
            "x": {"field": "w", "type": "quantitative"},
            "y": {"field": "pdf", "type": "quantitative"},
            "color": {"field": "phase", "type": "nominal"}
          }
        },
        {
          "data": {"values": [{"label": "(b)"}]},
          "mark": {"type": "text", "fontSize": 24, "font": "Liberation Sans", "align": "center", "baseline": "middle", "color": "#000000"},
          "encoding": {"x": {"datum": -7.15}, "y": {"datum": 1}, "text": {"field": "label"}}
        }
      ]
    },
    {
      "width": 254, "height": 204,
      "title": {"text": "σw", "offset": -15},
      "layer": [
        {
          "data": {"name": "sigmaw"},
          "mark": {"type": "line", "strokeWidth": 2.8, "strokeJoin": "round"},
          "encoding": {
            "x": {"field": "sigma_w", "type": "quantitative", "scale": {"domain": [-0.25, 2.75], "nice": false, "zero": false}, "axis": {"values": [0, 1, 2], "format": "d", "title": "σw (m/s)", "titlePadding": 7}},
            "y": {"field": "pdf", "type": "quantitative", "scale": {"type": "log", "domain": [1e-6, 1], "nice": false}, "axis": {"values": [1e-6, 1e-4, 1e-2, 1], "title": "PDF", "labelExpr": "datum.value >= 0.5 ? '10⁰' : datum.value >= 0.005 ? '10⁻²' : datum.value >= 0.00005 ? '10⁻⁴' : '10⁻⁶'"}},
            "color": {"field": "phase", "type": "nominal", "scale": {"domain": ["Phase 1", "Phase 2 with ice", "Phase 2 without ice", "Phase 3 with ice", "Phase 3 without ice", "Phase 4"], "range": ["#ff0000", "#74dd74", "#74dd74", "#0b5d1e", "#0b5d1e", "#0000ff"]}},
            "strokeDash": {"field": "phase", "type": "nominal", "scale": {"domain": ["Phase 1", "Phase 2 with ice", "Phase 2 without ice", "Phase 3 with ice", "Phase 3 without ice", "Phase 4"], "range": [[1, 0], [1, 0], [2.5, 3.5], [1, 0], [2.5, 3.5], [1, 0]]}},
            "detail": {"field": "seg"}
          }
        },
        {
          "data": {"values": [{"label": "(c)"}]},
          "mark": {"type": "text", "fontSize": 24, "font": "Liberation Sans", "align": "center", "baseline": "middle", "color": "#000000"},
          "encoding": {"x": {"datum": -0.88}, "y": {"datum": 1.5}, "text": {"field": "label"}}
        }
      ]
    }
  ],
  "columns": 2,
  "spacing": {"row": 122, "column": 79},
  "bounds": "flush"
}
